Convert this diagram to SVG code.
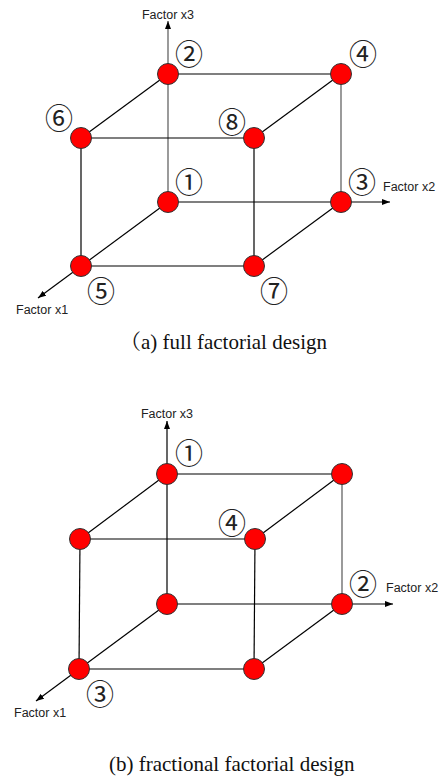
<svg xmlns="http://www.w3.org/2000/svg" width="443" height="779" viewBox="0 0 443 779">
<style>
.e{stroke:#000;stroke-width:1.2;fill:none}
.g{stroke:#707070;stroke-width:1.4;fill:none}
.ax{stroke:#000;stroke-width:1.2;fill:none;marker-end:url(#arr)}
.axg{stroke:#707070;stroke-width:1.4;fill:none;marker-end:url(#arr)}
.n{fill:#ff0000;stroke:#333;stroke-width:1}
.lab{font-family:"Liberation Sans",Arial,sans-serif;font-size:12.5px;fill:#222}
.num{font-family:"Noto Sans CJK SC","DejaVu Sans",sans-serif;font-size:28px;fill:#222;text-anchor:middle;dominant-baseline:central}
.cap{font-family:"Liberation Serif","Noto Serif CJK SC","Noto Sans CJK SC",serif;font-size:21px;fill:#111}
</style>
<defs>
<marker id="arr" markerWidth="8" markerHeight="6" refX="8" refY="3" orient="auto" markerUnits="userSpaceOnUse">
<path d="M0,0 L8,3 L0,6 z" fill="#000"/>
</marker>
</defs>
<rect width="443" height="779" fill="#fff"/>
<g id="connectors">
<line class="axg" x1="168" y1="202" x2="168" y2="21"/>
<line class="ax" x1="168" y1="202" x2="390" y2="202"/>
<line class="ax" x1="168" y1="202" x2="38" y2="298"/>
<line class="e" x1="168" y1="74" x2="341" y2="74"/>
<line class="e" x1="81" y1="138" x2="254" y2="138"/>
<line class="e" x1="81" y1="266" x2="254" y2="266"/>
<line class="e" x1="168" y1="74" x2="81" y2="138"/>
<line class="e" x1="341" y1="74" x2="254" y2="138"/>
<line class="e" x1="341" y1="202" x2="254" y2="266"/>
<line class="e" x1="81" y1="138" x2="81" y2="266"/>
<line class="e" x1="254" y1="138" x2="254" y2="266"/>
<line class="g" x1="341" y1="74" x2="341" y2="202"/>
<line class="ax" x1="167" y1="604" x2="167" y2="421"/>
<line class="ax" x1="167" y1="604" x2="393" y2="604"/>
<line class="ax" x1="167" y1="604" x2="36" y2="701"/>
<line class="e" x1="167" y1="474" x2="342" y2="474"/>
<line class="e" x1="80" y1="539" x2="255" y2="539"/>
<line class="e" x1="79" y1="669" x2="254" y2="669"/>
<line class="e" x1="167" y1="474" x2="80" y2="539"/>
<line class="e" x1="342" y1="474" x2="255" y2="539"/>
<line class="e" x1="342" y1="604" x2="254" y2="669"/>
<line class="e" x1="80" y1="539" x2="79" y2="669"/>
<line class="e" x1="255" y1="539" x2="254" y2="669"/>
<line class="g" x1="342" y1="474" x2="342" y2="604"/>
</g>
<g id="axis-labels">
<text class="lab" x="168" y="19" text-anchor="middle">Factor x3</text>
<text class="lab" x="383" y="191">Factor x2</text>
<text class="lab" x="16" y="314">Factor x1</text>
<text class="lab" x="167" y="418" text-anchor="middle">Factor x3</text>
<text class="lab" x="386" y="592">Factor x2</text>
<text class="lab" x="14" y="717">Factor x1</text>
</g>
<g id="a-node1"><circle class="n" cx="168" cy="202" r="10.5"/><text class="num" x="189" y="181">①</text></g>
<g id="a-node2"><circle class="n" cx="168" cy="74" r="10.5"/><text class="num" x="189" y="53">②</text></g>
<g id="a-node3"><circle class="n" cx="341" cy="202" r="10.5"/><text class="num" x="362" y="181">③</text></g>
<g id="a-node4"><circle class="n" cx="341" cy="74" r="10.5"/><text class="num" x="363" y="53">④</text></g>
<g id="a-node5"><circle class="n" cx="81" cy="266" r="10.5"/><text class="num" x="101" y="290">⑤</text></g>
<g id="a-node6"><circle class="n" cx="81" cy="138" r="10.5"/><text class="num" x="59" y="117">⑥</text></g>
<g id="a-node7"><circle class="n" cx="254" cy="266" r="10.5"/><text class="num" x="274" y="290">⑦</text></g>
<g id="a-node8"><circle class="n" cx="254" cy="138" r="10.5"/><text class="num" x="232" y="121">⑧</text></g>
<g id="b-node1"><circle class="n" cx="167" cy="474" r="10.5"/><text class="num" x="189" y="452">①</text></g>
<g id="b-node-tbr"><circle class="n" cx="342" cy="474" r="10.5"/></g>
<g id="b-node-tfl"><circle class="n" cx="80" cy="539" r="10.5"/></g>
<g id="b-node4"><circle class="n" cx="255" cy="539" r="10.5"/><text class="num" x="232" y="522">④</text></g>
<g id="b-node-bbl"><circle class="n" cx="167" cy="604" r="10.5"/></g>
<g id="b-node2"><circle class="n" cx="342" cy="604" r="10.5"/><text class="num" x="363" y="583">②</text></g>
<g id="b-node3"><circle class="n" cx="79" cy="669" r="10.5"/><text class="num" x="100" y="693">③</text></g>
<g id="b-node-bfr"><circle class="n" cx="254" cy="669" r="10.5"/></g>
<g id="captions">
<text class="cap" x="120" y="349">（a) full factorial design</text>
<text class="cap" x="109" y="771">(b) fractional factorial design</text>
</g>
</svg>
